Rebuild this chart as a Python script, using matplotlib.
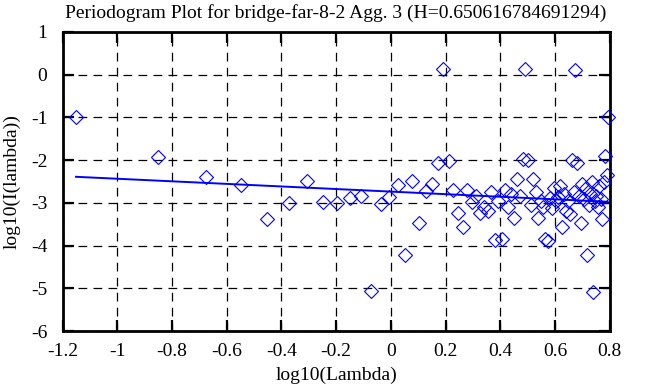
import matplotlib
matplotlib.use("Agg")
import matplotlib.pyplot as plt

# log10(Lambda) of each periodogram point
log_lambda = [-1.151, -0.850, -0.674, -0.549, -0.452, -0.373, -0.306, -0.248, -0.197, -0.151,
              -0.110, -0.072, -0.037, -0.005, 0.025, 0.053, 0.079, 0.104, 0.128, 0.150,
              0.171, 0.191, 0.211, 0.229, 0.247, 0.264, 0.280, 0.296, 0.311, 0.326,
              0.340, 0.354, 0.368, 0.380, 0.393, 0.405, 0.417, 0.429, 0.440, 0.451,
              0.462, 0.472, 0.482, 0.492, 0.502, 0.512, 0.521, 0.530, 0.539, 0.548,
              0.557, 0.565, 0.573, 0.581, 0.589, 0.597, 0.605, 0.612, 0.620, 0.627,
              0.634, 0.641, 0.648, 0.655, 0.662, 0.669, 0.675, 0.682, 0.688, 0.694,
              0.700, 0.706, 0.712, 0.718, 0.724, 0.730, 0.735, 0.741, 0.747, 0.752,
              0.757, 0.763, 0.768, 0.773, 0.778, 0.783, 0.789, 0.793]
# log10(I(lambda))
log_I = [-1.00, -1.92, -2.40, -2.58, -3.38, -3.00, -2.49, -2.97, -3.01, -2.89,
         -2.85, -5.07, -3.02, -2.86, -2.59, -4.23, -2.49, -3.47, -2.73, -2.56,
         -2.07, 0.13, -2.02, -2.69, -3.23, -3.56, -2.70, -2.97, -2.85, -3.24,
         -3.09, -3.19, -2.74, -3.88, -2.95, -3.85, -2.70, -3.09, -2.80, -3.35,
         -2.45, -2.85, -1.97, 0.14, -2.00, -3.05, -2.45, -2.75, -3.35, -2.95,
         -3.09, -3.85, -3.89, -2.89, -3.12, -2.66, -2.95, -2.86, -2.61, -3.56,
         -2.80, -3.20, -2.95, -3.25, -2.00, -2.75, 0.10, -2.07, -2.85, -3.47,
         -2.55, -2.90, -2.65, -4.23, -3.05, -2.80, -2.50, -5.08, -2.95, -2.85,
         -3.10, -2.60, -2.90, -3.37, -2.50, -1.90, -2.35, -1.00]

# fitted line endpoints (slope = 1 - 2H)
fit_x = [-1.151, 0.793]
fit_y = [-2.39, -2.975]

title = "Periodogram Plot for bridge-far-8-2 Agg. 3 (H=0.650616784691294)"
xticks = [-1.2, -1, -0.8, -0.6, -0.4, -0.2, 0, 0.2, 0.4, 0.6, 0.8]
xticklabels = ["-1.2", "-1", "-0.8", "-0.6", "-0.4", "-0.2", "0", "0.2", "0.4", "0.6", "0.8"]
yticks = [1, 0, -1, -2, -3, -4, -5, -6]
yticklabels = ["1", "0", "-1", "-2", "-3", "-4", "-5", "-6"]

FS = 14
plt.rcParams['font.family'] = ['Liberation Serif', 'DejaVu Serif']
plt.rcParams['font.size'] = FS

W, H = 663, 387
L, R, T, B = 62.6, 609.6, 32, 331
fig = plt.figure(figsize=(W/100, H/100), dpi=100)
ax = fig.add_axes([L/W, 1-B/H, (R-L)/W, (B-T)/H])

ax.set_xlim(-1.2, 0.8)
ax.set_ylim(-6, 1)

ax.set_xticks(xticks)
ax.set_xticklabels(xticklabels)
ax.set_yticks(yticks)
ax.set_yticklabels(yticklabels)

ax.grid(True, color='black', linewidth=0.9, linestyle=(0, (7, 5)))
ax.set_axisbelow(True)

ax.tick_params(direction='in', length=8, width=1.6, top=True, right=True,
               labelsize=FS)
ax.tick_params(axis='x', pad=9)
ax.tick_params(axis='y', pad=11)
for s in ax.spines.values():
    s.set_linewidth(2.0)

ax.plot(log_lambda, log_I, linestyle='none', marker='D', markersize=7.0,
        markerfacecolor='none', markeredgecolor='#0000ff', markeredgewidth=0.8,
        clip_on=False, zorder=3)
ax.plot(fit_x, fit_y, color='#0000ff', linewidth=1.4, zorder=4)

ax.set_title(title, fontsize=FS, y=(B - 13) / (B - T), pad=0, va='center')
ax.set_xlabel("log10(Lambda)", fontsize=FS, va='center')
ax.set_ylabel("log10(I(lambda))", fontsize=FS, va='center')
ax.xaxis.set_label_coords(0.5, (B - 375) / (B - T))
ax.yaxis.set_label_coords((12 - L) / (R - L), 0.5)

fig.savefig("out.png", dpi=100)
